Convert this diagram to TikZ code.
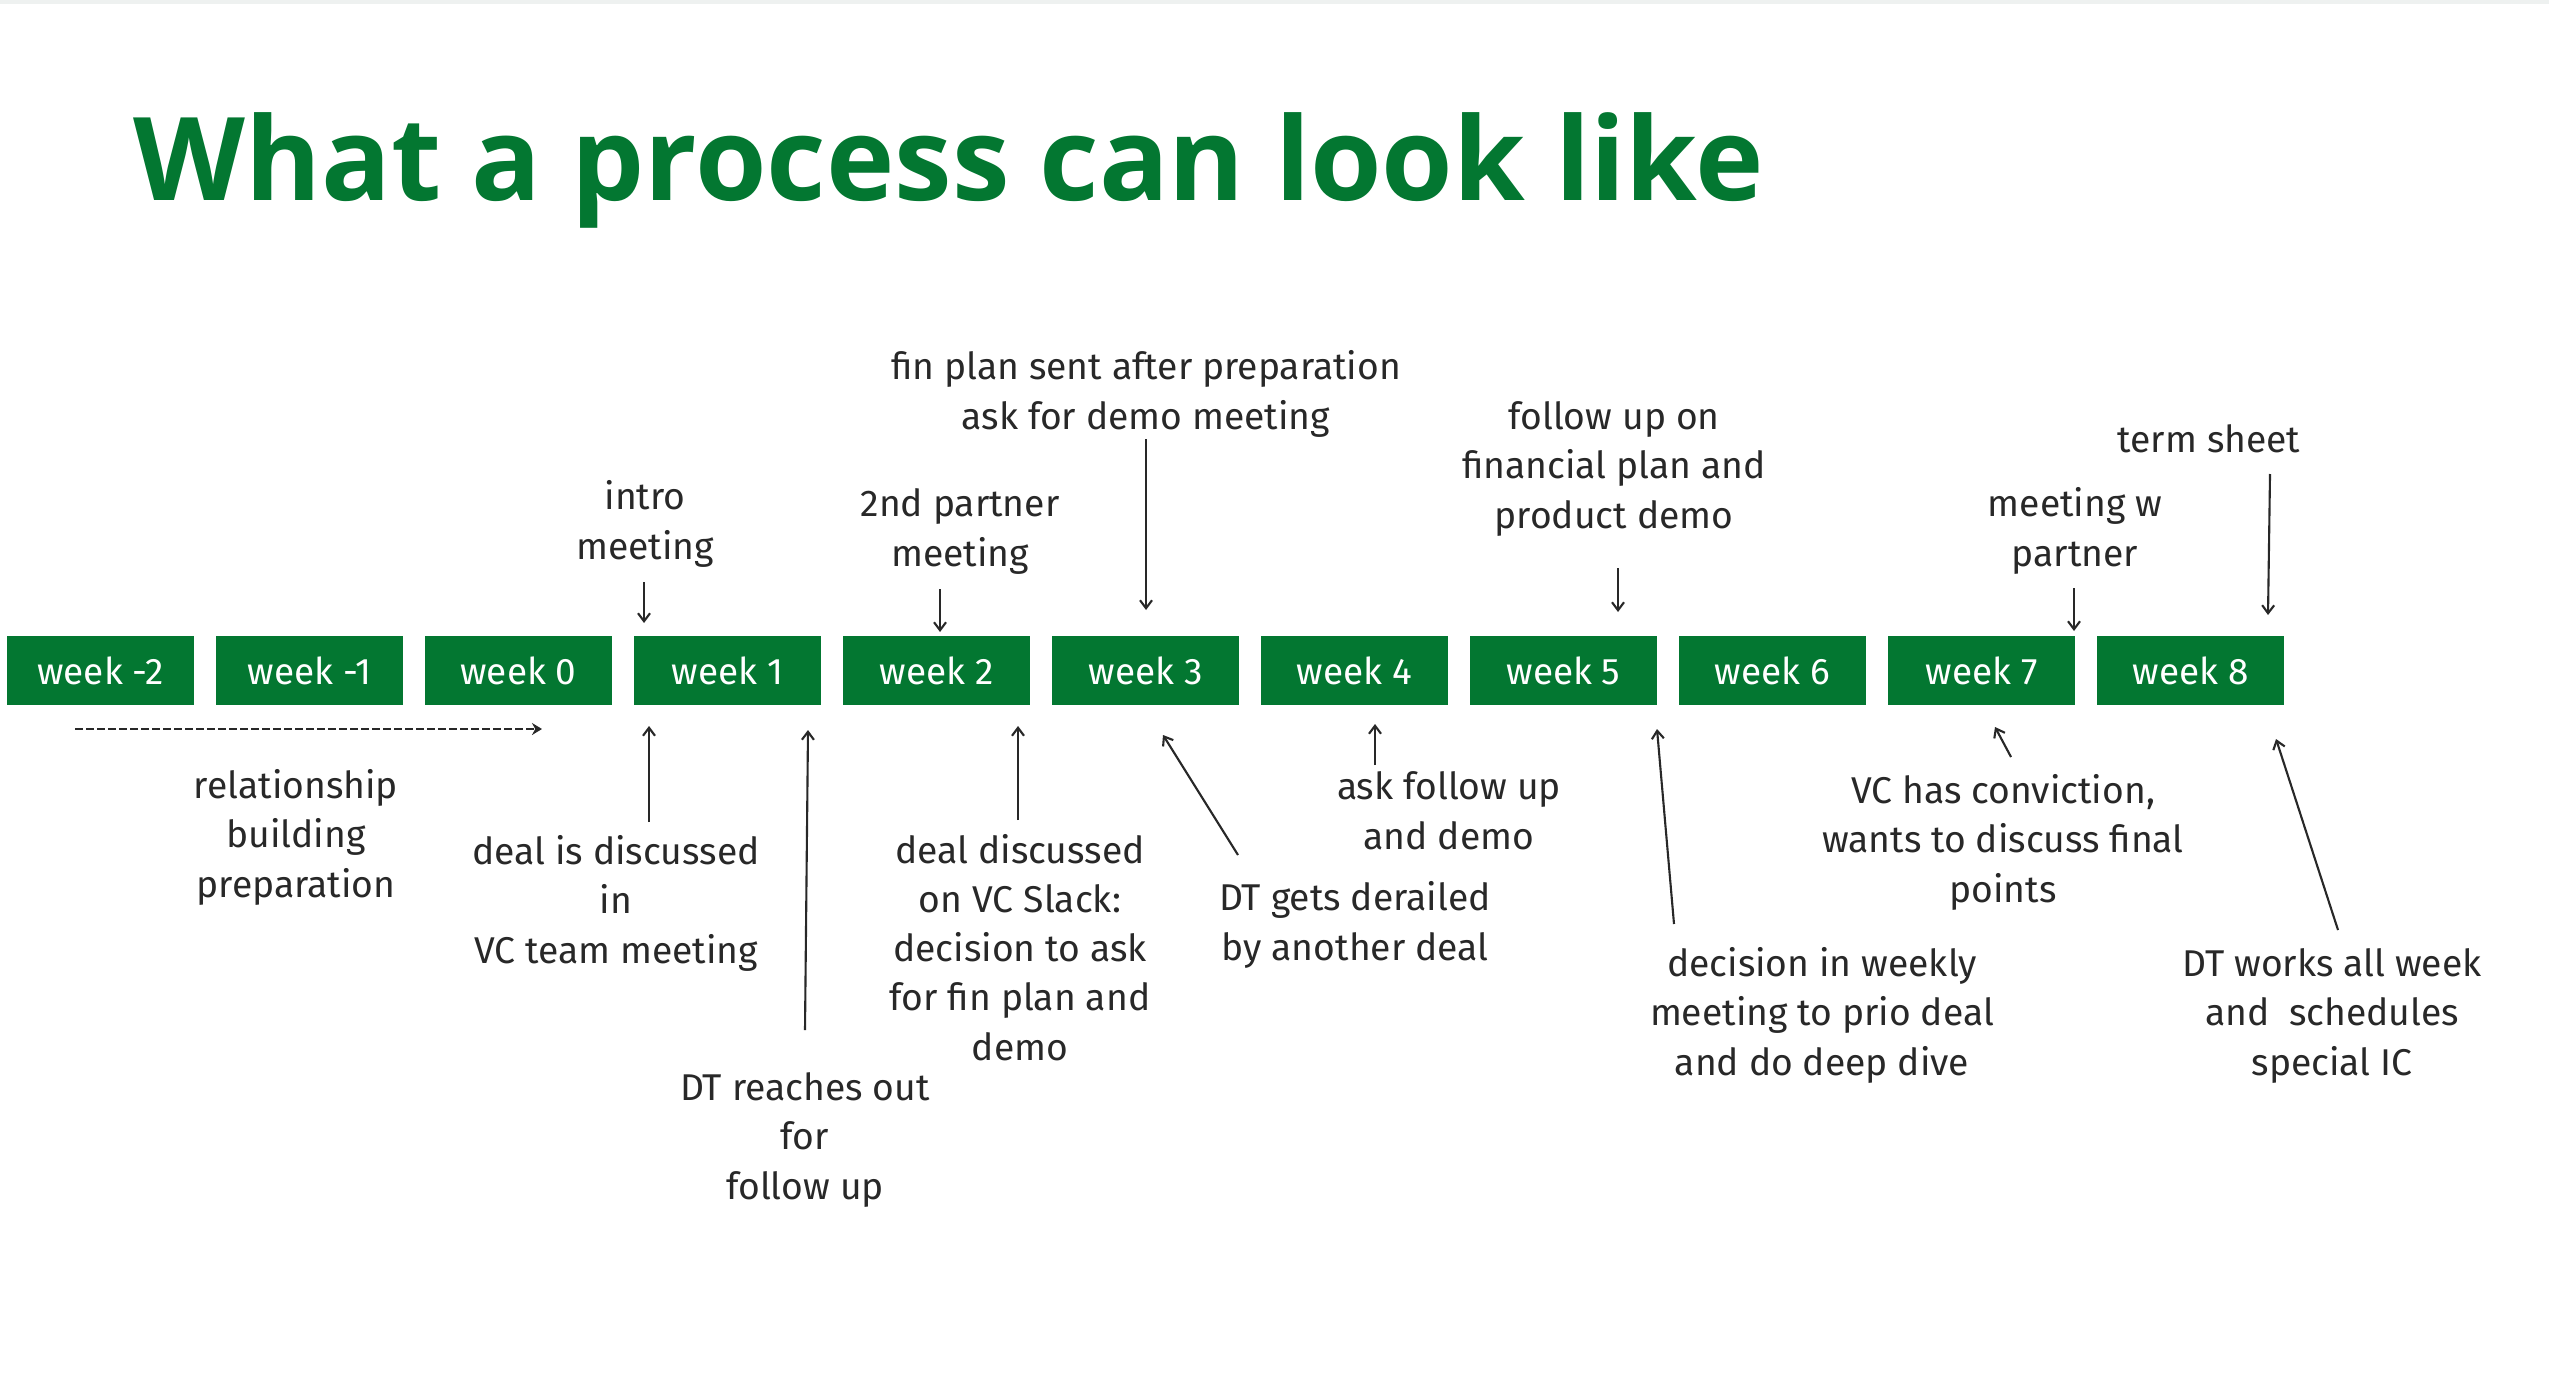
\documentclass[tikz,border=0pt]{standalone}
\usepackage{fontspec}
\setmainfont{Fira Sans}
\newfontfamily\headfont{Open Sans}
\usetikzlibrary{arrows.meta}
\definecolor{brandgreen}{RGB}{3,119,49}
\definecolor{ink}{RGB}{40,40,40}
\definecolor{topline}{RGB}{238,241,240}
\tikzset{
  weekbox/.style={fill=brandgreen, draw=none, minimum width=1.87cm, minimum height=0.69cm, inner sep=0pt,
    text=white, font=\fontsize{10.5}{13.94}\selectfont},
  lbl/.style={text=ink, align=center, inner sep=0pt, anchor=base, font=\fontsize{10.6}{13.94}\selectfont},
  arr/.style={draw=ink, line width=0.6pt, -{Straight Barb[length=0.8mm,width=1.2mm]}},
  dasharr/.style={draw=ink, line width=0.8pt, dash pattern=on 0.8mm off 0.3mm, -{Stealth[length=1mm,width=1.2mm]}},
}
\begin{document}
\begin{tikzpicture}[x=0.01cm,y=-0.01cm]
\useasboundingbox (0,0) rectangle (2549,1379);
\fill[white] (0,0) rectangle (2549,1379);
\fill[topline] (0,0) rectangle (2549,4);

% title
\node[anchor=base west, inner sep=0pt, text=brandgreen, font=\headfont\bfseries\fontsize{32.9}{40}\selectfont] (title) at (133,200) {What a process can look like};

% week boxes
\node[weekbox] (wm2) at (100.5,670.5) {week -2};
\node[weekbox] (wm1) at (309.5,670.5) {week -1};
\node[weekbox] (w0) at (518.5,670.5) {week 0};
\node[weekbox] (w1) at (727.5,670.5) {week 1};
\node[weekbox] (w2) at (936.5,670.5) {week 2};
\node[weekbox] (w3) at (1145.5,670.5) {week 3};
\node[weekbox] (w4) at (1354.5,670.5) {week 4};
\node[weekbox] (w5) at (1563.5,670.5) {week 5};
\node[weekbox] (w6) at (1772.5,670.5) {week 6};
\node[weekbox] (w7) at (1981.5,670.5) {week 7};
\node[weekbox] (w8) at (2190.5,670.5) {week 8};

% labels above (y = baseline of last line)
\node[lbl] (intro) at (645,559) {intro\\meeting};
\node[lbl] (partner2) at (960,566) {2nd partner\\meeting};
\node[lbl] (finplan) at (1146,429) {fin plan sent after preparation\\ask for demo meeting};
\node[lbl] (followup) at (1614,528) {follow up on\\financial plan and\\product demo};
\node[lbl] (meetw) at (2075,566) {meeting w\\partner};
\node[lbl] (term) at (2209,452) {term sheet};

% labels below
\node[lbl] (relation) at (296,897) {relationship\\building\\preparation};
\node[lbl] (dealteam) at (616,963) {deal is discussed\\in\\VC team meeting};
\node[lbl] (reach) at (805,1199) {DT reaches out\\for\\follow up};
\node[lbl] (slack) at (1020,1060) {deal discussed\\on VC Slack:\\decision to ask\\for fin plan and\\demo};
\node[lbl] (derail) at (1355,960) {DT gets derailed\\by another deal};
\node[lbl] (askfu) at (1449,849) {ask follow up\\and demo};
\node[lbl] (decision) at (1822,1075) {decision in weekly\\meeting to prio deal\\and do deep dive};
\node[lbl] (convict) at (2003,902) {VC has conviction,\\wants to discuss final\\points};
\node[lbl] (works) at (2332,1075) {DT works all week\\and\ \ schedules\\special IC};

% arrow end points
\coordinate (dS) at (75,729);   \coordinate (dE) at (542,729);
\coordinate (a1s) at (644,582);  \coordinate (a1e) at (644,623);
\coordinate (a2s) at (940,589);  \coordinate (a2e) at (940,632);
\coordinate (a3s) at (1146,439); \coordinate (a3e) at (1146,610);
\coordinate (a4s) at (1618,568); \coordinate (a4e) at (1618,612);
\coordinate (a5s) at (2074,588); \coordinate (a5e) at (2074,631);
\coordinate (a6s) at (2270,474); \coordinate (a6e) at (2268,615);
\coordinate (b1s) at (649,822);  \coordinate (b1e) at (649,726);
\coordinate (b2s) at (805,1030); \coordinate (b2e) at (808,730);
\coordinate (b3s) at (1018,820); \coordinate (b3e) at (1018,726);
\coordinate (b4s) at (1238,855); \coordinate (b4e) at (1163,735);
\coordinate (b5s) at (1375,765); \coordinate (b5e) at (1375,724);
\coordinate (b6s) at (1674,924); \coordinate (b6e) at (1657,729);
\coordinate (b7s) at (2011,757); \coordinate (b7e) at (1995,727);
\coordinate (b8s) at (2338,930); \coordinate (b8e) at (2276,739);

\draw[dasharr] (dS) -- (dE);
\foreach \p in {a1,a2,a3,a4,a5,a6,b1,b2,b3,b4,b5,b6,b7,b8}
  \draw[arr] (\p s) -- (\p e);
\end{tikzpicture}
\end{document}
